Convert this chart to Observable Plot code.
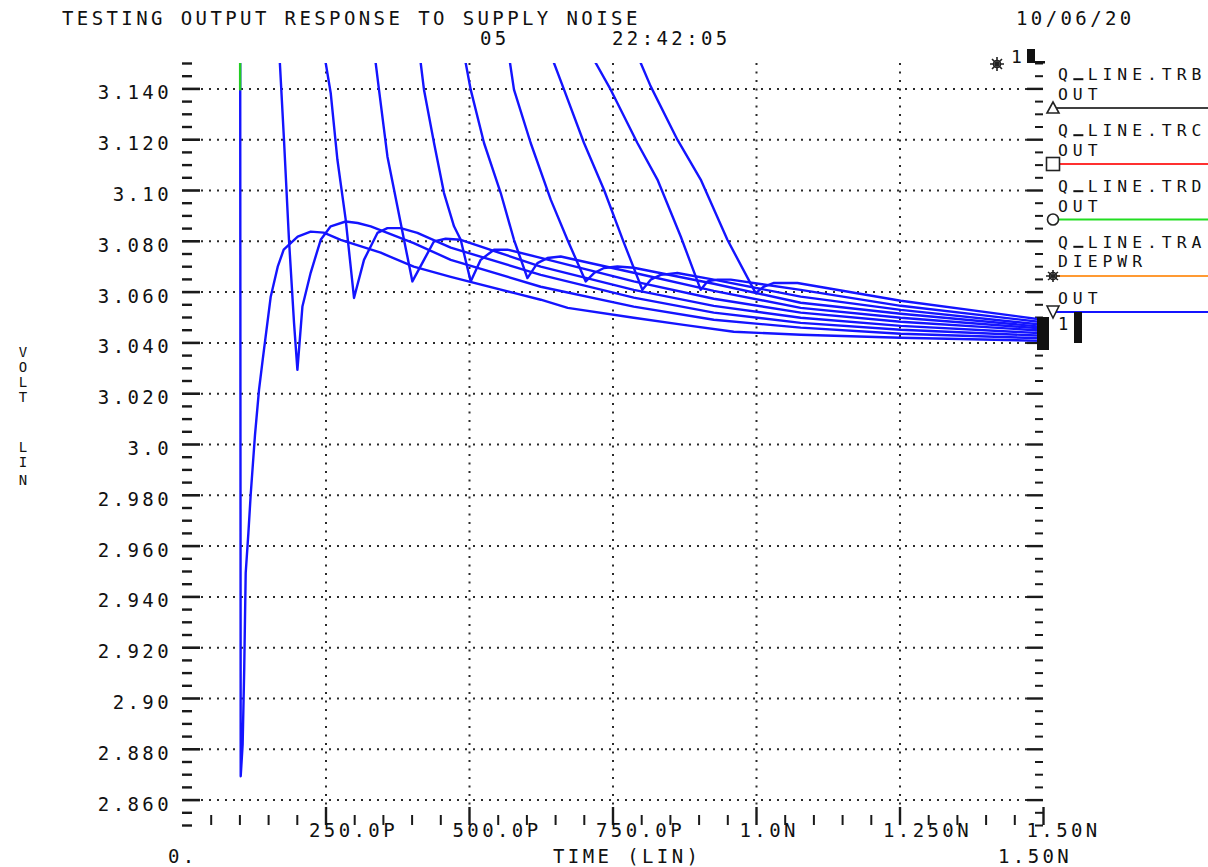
<!DOCTYPE html>
<html><head><meta charset="utf-8">
<script src="https://cdn.jsdelivr.net/npm/d3@7"></script>
<script src="https://cdn.jsdelivr.net/npm/@observablehq/plot@0.6"></script>
<style>
html,body{margin:0;padding:0;background:#fff;}
#chart{width:1208px;height:867px;}
svg text{font-family:"DejaVu Sans Mono",monospace;letter-spacing:3.4px;fill:#111;}
</style></head><body><div id="chart"></div>
<script>
// ---- axis ticks and labels ----
const yMajor = [2.86,2.88,2.90,2.92,2.94,2.96,2.98,3.00,3.02,3.04,3.06,3.08,3.10,3.12,3.14];
const yLabels = ["2.860","2.880","2.90","2.920","2.940","2.960","2.980","3.0","3.020","3.040","3.060","3.080","3.10","3.120","3.140"];
const xMajor = [250,500,750,1000,1250,1500];
const xLabels = ["250.0P","500.0P","750.0P","1.0N","1.250N","1.50N"];

// ---- traces: [time (ps), volts] ----
const trace0 = [[100.5,3.16],[101.4,2.8694],[104.8,2.8820],[107.5,2.9112],[110.1,2.9494],[114.8,2.9652],[118.8,2.9802],[126.3,3.0038],[133.3,3.0215],[139.7,3.0333],[153.7,3.0582],[165.9,3.0700],[176.3,3.0767],[200.7,3.0818],[223.3,3.0838],[246.0,3.0834],[275.6,3.0806],[345.3,3.0755],[402.8,3.0700],[467.3,3.0660],[577.0,3.0597],[624.1,3.0570],[671.1,3.0538],[786.1,3.0499],[873.2,3.0471],[960.3,3.0444],[1077.0,3.0432],[1251.2,3.0420],[1500,3.0408]];
const trace1 = [[167.3,3.16],[176.8,3.1200],[185.5,3.0806],[194.3,3.0479],[200.2,3.0294],[208.9,3.0543],[223.3,3.0676],[240.8,3.0806],[258.2,3.0859],[284.3,3.0878],[305.2,3.0872],[327.9,3.0859],[402.8,3.0793],[467.3,3.0727],[624.1,3.0621],[786.1,3.0543],[925.5,3.0491],[1077.0,3.0460],[1251.2,3.0436],[1500,3.0418]];
const trace2 = [[242.2,3.16],[249.5,3.1502],[258.2,3.1384],[269.9,3.1121],[284.3,3.0885],[298.8,3.0577],[316.2,3.0727],[339.6,3.0833],[357.0,3.0852],[380.1,3.0852],[409.2,3.0833],[467.3,3.0775],[624.1,3.0668],[786.1,3.0578],[925.5,3.0519],[1077.0,3.0479],[1251.2,3.0452],[1500,3.0428]];
const trace3 = [[331.2,3.16],[342.3,3.1397],[357.0,3.1134],[374.4,3.0937],[385.9,3.0806],[400.5,3.0642],[420.7,3.0727],[438.2,3.0800],[458.5,3.0810],[484.7,3.0806],[624.1,3.0700],[786.1,3.0609],[925.5,3.0546],[1077.0,3.0499],[1251.2,3.0467],[1500,3.0438]];
const trace4 = [[409.7,3.16],[415.0,3.1502],[420.7,3.1397],[438.2,3.1187],[455.6,3.0990],[473.0,3.0859],[484.7,3.0806],[502.1,3.0642],[519.5,3.0727],[542.7,3.0767],[566.0,3.0767],[624.1,3.0735],[786.1,3.0642],[925.5,3.0574],[1077.0,3.0519],[1251.2,3.0483],[1500,3.0448]];
const trace5 = [[485.2,3.16],[493.4,3.1502],[502.1,3.1397],[525.3,3.1187],[554.4,3.0990],[577.5,3.0806],[600.9,3.0655],[618.3,3.0714],[635.7,3.0734],[658.9,3.0740],[786.1,3.0676],[925.5,3.0605],[1077.0,3.0538],[1251.2,3.0499],[1500,3.0456]];
const trace6 = [[564.0,3.16],[570.6,3.1502],[577.5,3.1397],[606.6,3.1187],[641.5,3.0964],[670.6,3.0806],[702.5,3.0642],[716.9,3.0675],[734.3,3.0695],[757.7,3.0701],[786.1,3.0696],[925.5,3.0633],[1077.0,3.0558],[1251.2,3.0515],[1500,3.0463]];
const trace7 = [[630.7,3.16],[647.2,3.1502],[664.7,3.1397],[699.5,3.1187],[734.3,3.1003],[769.2,3.0793],[801.2,3.0609],[815.7,3.0649],[833.1,3.0668],[862.2,3.0675],[925.5,3.0649],[1077.0,3.0582],[1251.2,3.0530],[1500,3.0471]];
const trace8 = [[695.1,3.16],[719.9,3.1502],[746.0,3.1397],[792.5,3.1187],[827.4,3.1043],[868.0,3.0819],[902.8,3.0609],[914.5,3.0642],[931.9,3.0649],[955.1,3.0649],[1077.0,3.0609],[1251.2,3.0546],[1500,3.0481]];
const trace9 = [[779.5,3.16],[798.3,3.1502],[815.7,3.1410],[862.2,3.1200],[902.8,3.1043],[949.3,3.0806],[998.6,3.0596],[1013.1,3.0622],[1030.5,3.0636],[1071.3,3.0636],[1251.2,3.0566],[1500,3.0491]];
const greenBit = [[100.4,3.1505],[100.4,3.1398]];

const traces = [trace0,trace1,trace2,trace3,trace4,trace5,trace6,trace7,trace8,trace9];
const rows = traces.flatMap((tr,k)=>tr.map(([t,v])=>({t,v,k})));
const greenRows = greenBit.map(([t,v])=>({t,v}));
const yMinor = d3.range(2850,3151,5).filter(m=>m%20!==0).map(m=>m/1000);
const xMinor = d3.range(50,1500,50).filter(m=>m%250!==0);

const W=1208,H=867,ML=182,MR=165,MT=63,MB=42;
const FW=W-ML-MR, FH=H-MT-MB;
const ink="#1a1a1a";

const svg = Plot.plot({
  width:W,height:H,marginLeft:ML,marginRight:MR,marginTop:MT,marginBottom:MB,
  x:{domain:[0,1500],axis:null},
  y:{domain:[2.85,3.15],axis:null},
  style:{fontFamily:"DejaVu Sans Mono",background:"#fff",overflow:"visible"},
  marks:[
    Plot.ruleY(yMajor,{stroke:"#2a2a2a",strokeWidth:2,strokeDasharray:"2,6",insetLeft:19,insetRight:16}),
    Plot.ruleX(xMajor.slice(0,5),{stroke:"#2a2a2a",strokeWidth:2,strokeDasharray:"2,6.5",insetBottom:18}),
    Plot.ruleY(yMajor,{stroke:ink,strokeWidth:2.6,insetRight:FW-18}),
    Plot.ruleY(yMinor,{stroke:ink,strokeWidth:2.4,insetRight:FW-10}),
    Plot.ruleY(yMajor,{stroke:ink,strokeWidth:2.4,insetLeft:FW-16}),
    Plot.ruleY(yMinor,{stroke:ink,strokeWidth:2,insetLeft:FW-8}),
    Plot.ruleX(xMajor,{stroke:ink,strokeWidth:2.4,insetTop:FH-18}),
    Plot.ruleX(xMinor,{stroke:ink,strokeWidth:2,insetTop:FH-10}),
    Plot.line(rows,{x:"t",y:"v",z:"k",stroke:"#1414ff",strokeWidth:2.4,clip:true,curve:"linear"}),
    Plot.line(greenRows,{x:"t",y:"v",stroke:"#22cc22",strokeWidth:2.4,clip:true}),
    Plot.text(yMajor,{y:d=>d,text:(d,i)=>yLabels[i],frameAnchor:"left",textAnchor:"end",dx:-10.5,dy:4.4,fontSize:19}),
    Plot.text(xMajor,{x:d=>d,text:(d,i)=>xLabels[i],frameAnchor:"bottom",textAnchor:"start",dx:-17,dy:11.9,fontSize:19})
  ]
});
document.getElementById("chart").appendChild(svg);

// ---- titles, axis titles and legend ----
const s = d3.select(svg);
function txt(x,y,t,size=19,anchor="start"){
  return s.append("text").attr("x",x).attr("y",y).attr("font-size",size).attr("text-anchor",anchor).text(t);
}
// legend texts: slightly smaller font, same character pitch as the rest
const LF = 16.4, LS = 14.84 - LF*0.602;
function ltxt(x,y,t){
  return txt(x,y,t,LF).style("letter-spacing",LS+"px");
}
// legend name as plain text; the font's low underscore is masked and a
// baseline bar is painted where the reference shows it
function qtxt(x,y,t){
  ltxt(x,y,t);
  const ux = x+14.84*t.indexOf("_");
  s.append("rect").attr("x",ux-1).attr("y",y+2).attr("width",13).attr("height",3.5).attr("fill","#fff");
  s.append("rect").attr("x",ux+0.5).attr("y",y-2).attr("width",10).attr("height",2).attr("fill","#111");
}
txt(62,25,"TESTING OUTPUT RESPONSE TO SUPPLY NOISE");
txt(1016,25,"10/06/20");
txt(480,45,"05");
txt(612,45,"22:42:05");
txt(168,863,"0.");
txt(553,863,"TIME (LIN)");
txt(998,863,"1.50N");
// vertical y title, one text element with stacked letters
const yt = s.append("text").attr("font-size",14).attr("text-anchor","middle").style("letter-spacing","0px");
[["V",357],["O",372],["L",387],["T",402],["L",452],["I",467],["N",485]].forEach(([c,y])=>{
  yt.append("tspan").attr("x",23).attr("y",y).text(c);
});
// legend
const lg = [
  {l1:"Q_LINE.TRB",l2:"OUT",y1:80.2,y2:99.8,ly:108,color:"#404040",m:"tri"},
  {l1:"Q_LINE.TRC",l2:"OUT",y1:136.2,y2:155.8,ly:164,color:"#ff3030",m:"sq"},
  {l1:"Q_LINE.TRD",l2:"OUT",y1:192.2,y2:211.8,ly:219.5,color:"#22dd22",m:"circ"},
  {l1:"Q_LINE.TRA",l2:"DIEPWR",y1:247.8,y2:267.4,ly:276,color:"#ff9a33",m:"star"},
  {l1:null,l2:"OUT",y1:null,y2:304,ly:312,color:"#1414ff",m:"dtri"}
];
lg.forEach(d=>{
  if(d.l1) qtxt(1058,d.y1,d.l1);
  ltxt(1058,d.y2,d.l2);
  s.append("line").attr("x1",1052).attr("x2",1208).attr("y1",d.ly).attr("y2",d.ly).attr("stroke",d.color).attr("stroke-width",2);
  const cx=1053, cy=d.ly;
  const g=s.append("g").attr("fill","#fff").attr("stroke","#222").attr("stroke-width",1.6);
  if(d.m==="tri") g.append("path").attr("d",`M${cx-6},${cy+5}L${cx},${cy-6}L${cx+6},${cy+5}Z`);
  if(d.m==="sq") g.append("rect").attr("x",cx-6.5).attr("y",cy-6.5).attr("width",13).attr("height",13);
  if(d.m==="circ") g.append("circle").attr("cx",cx).attr("cy",cy).attr("r",5.5);
  if(d.m==="star"){g.append("circle").attr("cx",cx).attr("cy",cy).attr("r",3.5);
    g.append("path").attr("d",`M${cx-7},${cy}H${cx+7}M${cx},${cy-6}V${cy+6}M${cx-5},${cy-4}L${cx+5},${cy+4}M${cx-5},${cy+4}L${cx+5},${cy-4}`);}
  if(d.m==="dtri") g.append("path").attr("d",`M${cx-6},${cy-6}L${cx},${cy+6}L${cx+6},${cy-6}Z`);
});
// top-right marker cluster
const tg=s.append("g").attr("fill","none").attr("stroke","#222").attr("stroke-width",1.6);
tg.append("circle").attr("cx",997).attr("cy",64).attr("r",3.5);
tg.append("path").attr("d","M990,64H1004M997,57V71M992,59L1002,69M992,69L1002,59");
txt(1011,63,"1",18);
s.append("rect").attr("x",1027).attr("y",49).attr("width",8).attr("height",14).attr("fill","#111");
s.append("rect").attr("x",1035).attr("y",61).attr("width",10).attr("height",2.5).attr("fill","#111");
// end-of-trace marker cluster
s.append("rect").attr("x",1037).attr("y",317).attr("width",12).attr("height",33).attr("fill","#111");
txt(1058,330,"1",17);
s.append("rect").attr("x",1074).attr("y",312).attr("width",8).attr("height",31).attr("fill","#111");
</script></body></html>
